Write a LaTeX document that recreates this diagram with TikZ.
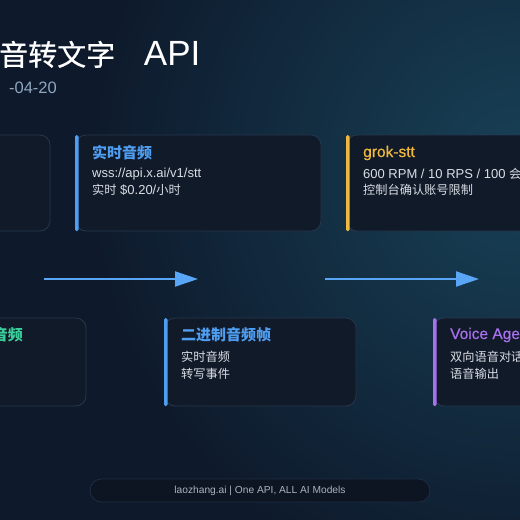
\documentclass[tikz,border=0pt]{standalone}
\usepackage{fontspec}
\setmainfont{Liberation Sans}
\newfontfamily\cjk{Noto Sans CJK SC}
\newfontfamily\cjkmed{Noto Sans CJK SC}[FakeBold=0.7]
\newfontfamily\latmed{Liberation Sans}[FakeBold=0.6]
\usetikzlibrary{arrows.meta}
\definecolor{bgbase}{HTML}{0E1A2C}
\definecolor{bgteal}{HTML}{184157}
\definecolor{cardfill}{HTML}{111A28}
\definecolor{cardline}{HTML}{26374D}
\definecolor{accblue}{HTML}{4F9EF2}
\definecolor{accyellow}{HTML}{F0B83E}
\definecolor{accgreen}{HTML}{3CCF9C}
\definecolor{accpurple}{HTML}{A770EC}
\definecolor{bodytext}{HTML}{D9DEE6}
\definecolor{datecol}{HTML}{8FA7BF}
\definecolor{pillfill}{HTML}{0D1422}
\definecolor{pillline}{HTML}{1F2D42}
\definecolor{pilltext}{HTML}{A9B3C1}
\definecolor{arrowcol}{HTML}{5AA6F6}
\newcommand{\zhtext}[1]{{\cjk\fontsize{12.2}{14}\selectfont #1}}
\newcommand{\zhtitle}[1]{{\cjk\bfseries\fontsize{15}{17}\selectfont #1}}
\begin{document}
\begin{tikzpicture}[x=1pt,y=-1pt,
  card/.style={draw=cardline, line width=0.8pt, fill=cardfill, rounded corners=10pt, anchor=north west, inner sep=0pt, outer sep=0pt},
  accbar/.style={fill=#1, rounded corners=1.5pt},
  ctitle/.style={anchor=west, inner sep=0pt, font=\latmed\fontsize{15.5}{17}\selectfont},
  cbody/.style={anchor=west, inner sep=0pt, text=bodytext, font=\fontsize{13}{15}\selectfont},
  flow/.style={draw=arrowcol, line width=2pt, -{Triangle[length=23pt,width=15pt]}}]
\useasboundingbox (0,0) rectangle (520,520);
\clip (0,0) rectangle (520,520);
% background
\fill[bgbase] (0,0) rectangle (520,520);
\shade[inner color=bgteal, outer color=bgbase] (520,170) circle (430pt);
% title
\node[anchor=base west, inner sep=0pt, text=white, font=\fontsize{35}{38}\selectfont] (title) at (-1,65.5) {{\cjkmed\fontsize{29}{32}\selectfont 音转文字} \hspace{19pt}API};
\node[anchor=base east, inner sep=0pt, text=datecol, font=\fontsize{16.5}{18}\selectfont] (date) at (57,93) {-04-20};
% row 1 cards
\node[card, minimum width=72pt, minimum height=96pt] (cardA) at (-22,135) {};
\node[card, minimum width=245pt, minimum height=96pt] (cardB) at (76,135) {};
\fill[accbar=accblue] (75,135) rectangle (78.5,231);
\node[ctitle, text=accblue] (tB) at (92,153) {\zhtitle{实时音频}};
\node[cbody] (bB1) at (92,174) {wss://api.x.ai/v1/stt};
\node[cbody] (bB2) at (92,190) {\zhtext{实时} \$0.20/\zhtext{小时}};
\node[card, minimum width=200pt, minimum height=96pt] (cardC) at (347,135) {};
\fill[accbar=accyellow] (346,135) rectangle (349.5,231);
\node[ctitle, text=accyellow] (tC) at (363,153) {grok-stt};
\node[cbody] (bC1) at (363,174) {600 RPM / 10 RPS / 100 \zhtext{会话}};
\node[cbody] (bC2) at (363,190) {\zhtext{控制台确认账号限制}};
% arrows
\coordinate (a1s) at (44,279);
\coordinate (a1e) at (198,279);
\coordinate (a2s) at (325,279);
\coordinate (a2e) at (479,279);
\draw[flow] (a1s) -- (a1e);
\draw[flow] (a2s) -- (a2e);
% row 2 cards
\node[card, minimum width=108pt, minimum height=88pt] (cardD) at (-22,318) {};
\node[ctitle, text=accgreen, anchor=east] (tD) at (23,335) {\zhtitle{音频}};
\node[card, minimum width=191pt, minimum height=88pt] (cardE) at (165,318) {};
\fill[accbar=accblue] (164,318) rectangle (167.5,406);
\node[ctitle, text=accblue] (tE) at (181,335) {\zhtitle{二进制音频帧}};
\node[cbody] (bE1) at (181,357) {\zhtext{实时音频}};
\node[cbody] (bE2) at (181,374) {\zhtext{转写事件}};
\node[card, minimum width=120pt, minimum height=88pt] (cardF) at (434,318) {};
\fill[accbar=accpurple] (433,318) rectangle (436.5,406);
\node[ctitle, text=accpurple] (tF) at (450,335) {Voice Agent};
\node[cbody] (bF1) at (450,357) {\zhtext{双向语音对话}};
\node[cbody] (bF2) at (450,374) {\zhtext{语音输出}};
% footer
\node[draw=pillline, fill=pillfill, line width=0.8pt, rounded corners=11.5pt, minimum width=340pt, minimum height=23pt, inner sep=0pt, text=pilltext, font=\fontsize{10.2}{12}\selectfont] (footer) at (260,490.5) {laozhang.ai | One API, ALL AI Models};
\end{tikzpicture}
\end{document}
